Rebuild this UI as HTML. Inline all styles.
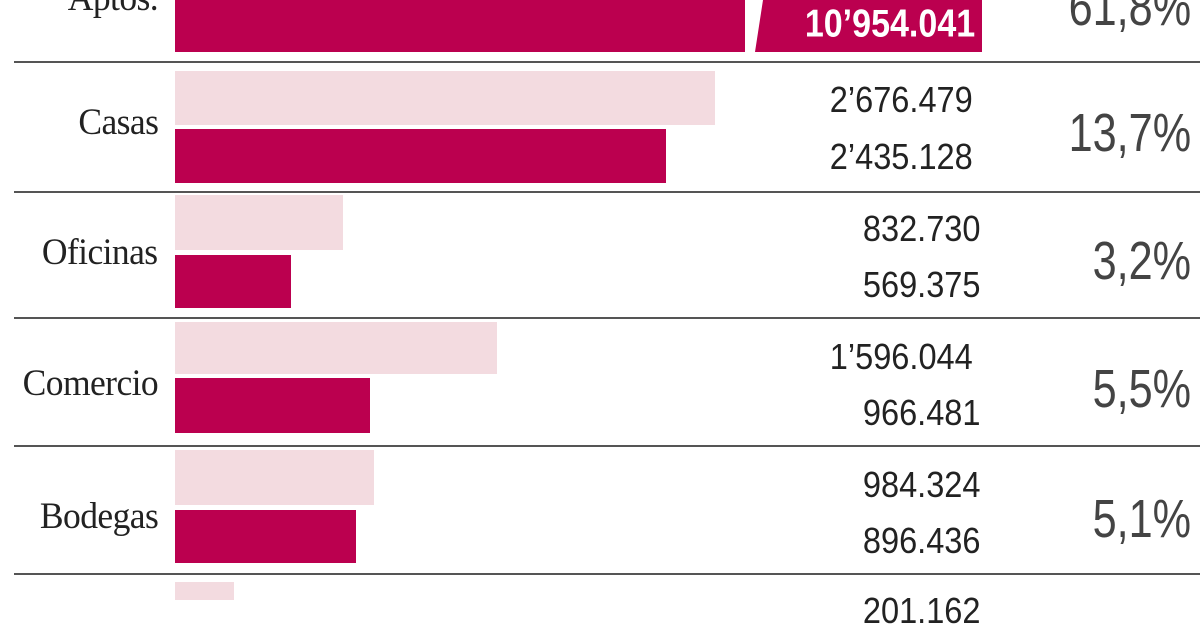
<!DOCTYPE html>
<html><head><meta charset="utf-8"><style>
body{margin:0;width:1200px;height:600px;overflow:hidden;background:#fff;position:relative;font-family:"Liberation Sans",sans-serif}
.b{position:absolute;left:175px}
.l{background:#f3dbe0}
.d{background:#bb004f}
.hr{position:absolute;left:14px;right:0;height:2px;background:#555}
.lab{position:absolute;right:1042px;font-family:"Liberation Serif",serif;font-size:37px;color:#222;line-height:1;letter-spacing:-0.6px;transform:scaleX(0.96);transform-origin:right}
.n{position:absolute;right:219px;font-size:35px;color:#222;line-height:1;transform:scale(0.93,1.02);transform-origin:right}
.p{position:absolute;right:9px;font-size:54px;color:#444;line-height:1;transform:scaleX(0.8);transform-origin:right}
</style></head><body>
<div class="b d" style="top:0;height:52px;width:570px"></div>
<svg style="position:absolute;left:735px;top:0" width="250" height="52"><polygon points="20,52 28,0 247,0 247,52" fill="#bb004f"/></svg>
<div class="n" style="top:5px;color:#fff;font-weight:bold;right:225px;font-size:37px;transform:scale(0.92,1.05)">10’954.041</div>
<div class="lab" style="top:-20px">Aptos.</div>
<div class="p" style="top:-20px">61,8%</div>
<div class="hr" style="top:61px"></div>

<div class="b l" style="top:71px;height:54px;width:540px"></div>
<div class="b d" style="top:129px;height:54px;width:491px"></div>
<div class="lab" style="top:104px">Casas</div>
<div class="n" style="top:83px;right:227px">2’676.479</div>
<div class="n" style="top:140px;right:227px">2’435.128</div>
<div class="p" style="top:106px">13,7%</div>
<div class="hr" style="top:191px"></div>

<div class="b l" style="top:195px;height:55px;width:168px"></div>
<div class="b d" style="top:255px;height:53px;width:116px"></div>
<div class="lab" style="top:234px">Oficinas</div>
<div class="n" style="top:212px">832.730</div>
<div class="n" style="top:268px">569.375</div>
<div class="p" style="top:234px">3,2%</div>
<div class="hr" style="top:317px"></div>

<div class="b l" style="top:322px;height:52px;width:322px"></div>
<div class="b d" style="top:378px;height:55px;width:195px"></div>
<div class="lab" style="top:365px">Comercio</div>
<div class="n" style="top:340px;right:227px">1’596.044</div>
<div class="n" style="top:396px">966.481</div>
<div class="p" style="top:362px">5,5%</div>
<div class="hr" style="top:445px"></div>

<div class="b l" style="top:450px;height:55px;width:199px"></div>
<div class="b d" style="top:510px;height:53px;width:181px"></div>
<div class="lab" style="top:498px">Bodegas</div>
<div class="n" style="top:468px">984.324</div>
<div class="n" style="top:524px">896.436</div>
<div class="p" style="top:492px">5,1%</div>
<div class="hr" style="top:573px"></div>

<div class="b l" style="top:582px;height:18px;width:59px"></div>
<div class="n" style="top:594px">201.162</div>
</body></html>
